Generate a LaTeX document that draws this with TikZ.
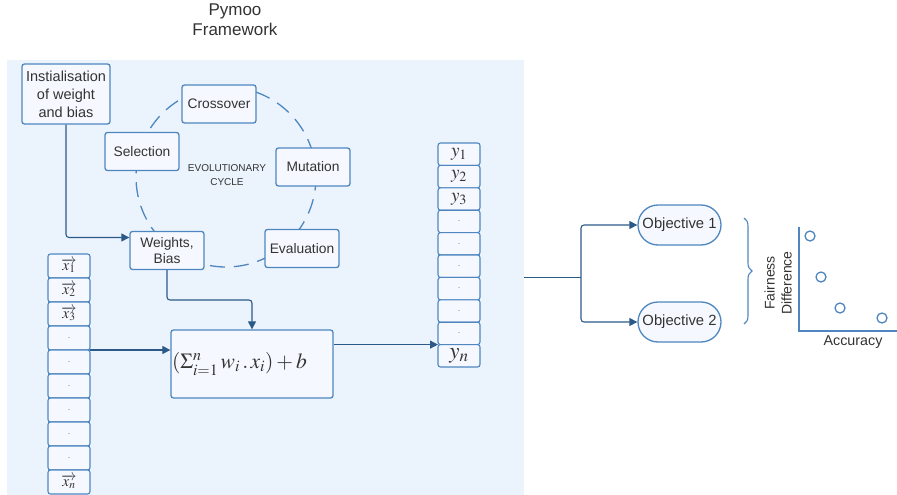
\documentclass[tikz,border=0pt]{standalone}
\usepackage{mathptmx}
\usepackage[no-math]{fontspec}
\setmainfont{Liberation Sans}
\usetikzlibrary{arrows.meta,decorations.pathreplacing,positioning}

\definecolor{panelblue}{HTML}{EBF3FD}
\definecolor{boxfill}{HTML}{F5F9FF}
\definecolor{boxline}{HTML}{4F86C0}
\definecolor{arrowblue}{HTML}{2C5A88}
\definecolor{textgray}{HTML}{333333}

\begin{document}
\begin{tikzpicture}[
        x=1pt, y=-1pt,
        every node/.style={font=\fontsize{13.8}{16}\selectfont, text=textgray},
        % Box Styles
        basebox/.style={
            rectangle,
            draw=boxline,
            fill=boxfill,
            line width=1.3pt,
            rounded corners=2.5pt,
            align=center,
            inner sep=1pt
        },
        stagebox/.style={
            basebox,
            minimum width=74pt,
            minimum height=38pt
        },
        cellbox/.style={
            basebox,
            line width=1.1pt,
            outer sep=0pt,
            minimum width=42pt,
            minimum height=24pt,
            inner sep=0pt,
            font=\fontsize{15.5}{16}\selectfont
        },
        ycellbox/.style={
            cellbox,
            minimum height=22.4pt,
            font=\fontsize{19}{20}\selectfont
        },
        objbox/.style={
            basebox,
            rounded corners=20pt,
            minimum width=83pt,
            minimum height=40pt,
            font=\fontsize{14.8}{17}\selectfont
        },
        dotmark/.style={font=\fontsize{7}{8}\selectfont},
        pointmark/.style={circle, draw=boxline, line width=1.3pt, minimum size=10pt, inner sep=0pt},
        % Connector Styles
        arrow/.style={-{Triangle[length=8pt,width=8pt]}, line width=1.1pt, draw=arrowblue, rounded corners=3pt},
        plainline/.style={line width=1.1pt, draw=arrowblue, rounded corners=3pt}
    ]
    \useasboundingbox (0,0) rectangle (897,495);

    % --- Framework Panel ---
    \node[fill=panelblue, minimum width=517pt, minimum height=435pt, inner sep=0pt] (panel) at (265.5,277.5) {};
    \node[font=\fontsize{17}{20}\selectfont, align=center] (title) at (235,20) {Pymoo\\Framework};

    % --- Evolutionary Cycle ---
    \draw[boxline, line width=1.3pt, dash pattern=on 15pt off 9pt] (226,177) circle (90pt);
    \node[font=\fontsize{10}{14}\selectfont, align=center] (cycle) at (227,175) {EVOLUTIONARY\\CYCLE};

    \node[basebox, minimum width=88pt, minimum height=60pt, font=\fontsize{14.5}{18}\selectfont] (init) at (66,94) {Instialisation\\of weight\\and bias};
    \node[stagebox] (crossover) at (219,104) {Crossover};
    \node[stagebox] (selection) at (142,151.5) {Selection};
    \node[stagebox] (mutation) at (313,167) {Mutation};
    \node[stagebox] (evaluation) at (302,248.5) {Evaluation};
    \node[stagebox] (weights) at (167,250.5) {Weights,\\Bias};

    % --- Input Vector (Left) ---
    \node[cellbox] (x1) at (69,266) {$\overrightarrow{x_1}$};
    \node[cellbox, below=0pt of x1] (x2) {$\overrightarrow{x_2}$};
    \node[cellbox, below=0pt of x2] (x3) {$\overrightarrow{x_3}$};
    \node[cellbox, below=0pt of x3, dotmark] (x4) {.};
    \node[cellbox, below=0pt of x4, dotmark] (x5) {.};
    \node[cellbox, below=0pt of x5, dotmark] (x6) {.};
    \node[cellbox, below=0pt of x6, dotmark] (x7) {.};
    \node[cellbox, below=0pt of x7, dotmark] (x8) {.};
    \node[cellbox, below=0pt of x8, dotmark] (x9) {.};
    \node[cellbox, below=0pt of x9] (xn) {$\overrightarrow{x_n}$};

    % --- Weighted Sum ---
    \node[basebox, minimum width=162pt, minimum height=68pt, text width=160pt, align=left,
          font=\fontsize{21.5}{24}\selectfont] (sum) at (252,364)
        {$(\Sigma_{i=1}^{n}\, w_i\,.\,x_i) + b$};

    % --- Output Vector ---
    \node[ycellbox] (y1) at (459,154.2) {$y_1$};
    \node[ycellbox, below=0pt of y1] (y2) {$y_2$};
    \node[ycellbox, below=0pt of y2] (y3) {$y_3$};
    \node[ycellbox, below=0pt of y3, dotmark] (y4) {.};
    \node[ycellbox, below=0pt of y4, dotmark] (y5) {.};
    \node[ycellbox, below=0pt of y5, dotmark] (y6) {.};
    \node[ycellbox, below=0pt of y6, dotmark] (y7) {.};
    \node[ycellbox, below=0pt of y7, dotmark] (y8) {.};
    \node[ycellbox, below=0pt of y8, dotmark] (y9) {.};
    \node[ycellbox, below=0pt of y9, font=\fontsize{23}{23}\selectfont] (yn) {$y_n$};

    % --- Objectives (Right) ---
    \node[objbox] (obj1) at (679.5,225) {Objective 1};
    \node[objbox] (obj2) at (679.5,322) {Objective 2};

    % --- Paths & Connections ---
    \coordinate (split) at (581,277.5);
    \coordinate (bend) at (167,300);
    \draw[arrow] (init.south) |- ([yshift=13pt]weights.west);
    \draw[arrow] (weights.south) -- (bend) -| (sum.north);
    \draw[arrow] (x4.south east) -- (x4.south east -| sum.west);
    \draw[arrow] (sum.east |- yn.north west) -- (yn.north west);
    \draw[plainline] (panel.east) -- (split);
    \draw[arrow] (split) |- (obj1.west);
    \draw[arrow] (split) |- (obj2.west);

    % --- Pareto Front ---
    \coordinate (bracetop) at (744,218);
    \coordinate (bracebot) at (744,324);
    \draw[boxline, line width=1.1pt, decorate, decoration={brace, amplitude=8pt}] (bracetop) -- (bracebot);

    \coordinate (ytop) at (799,227);
    \coordinate (origin) at (799,331);
    \coordinate (xend) at (897,331);
    \draw[boxline, line width=1.3pt] (ytop) -- (origin) -- (xend);
    \node[pointmark] (p1) at (810,236) {};
    \node[pointmark] (p2) at (821,277) {};
    \node[pointmark] (p3) at (840,308) {};
    \node[pointmark] (p4) at (882,318) {};
    \node[rotate=90, align=center, font=\fontsize{14}{17}\selectfont] (fairness) at (778,283) {Fairness\\Difference};
    \node[font=\fontsize{14.3}{16}\selectfont] (accuracy) at (853,342) {Accuracy};

\end{tikzpicture}
\end{document}
